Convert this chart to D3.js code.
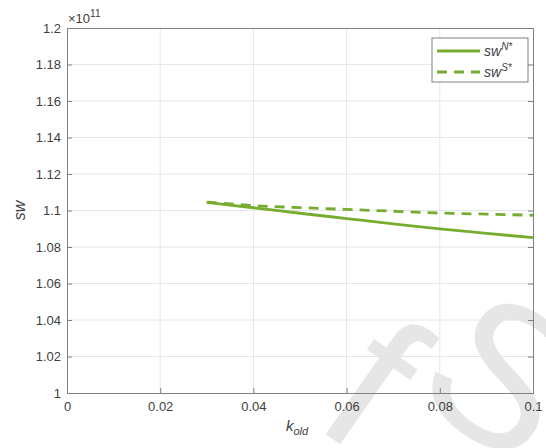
<!DOCTYPE html>
<html>
<head>
<meta charset="utf-8">
<script src="https://cdn.jsdelivr.net/npm/d3@7"></script>
<style>
  body { margin: 0; background: #fff; }
  svg { font-family: "Liberation Sans", Arial, sans-serif; }
</style>
</head>
<body>
<div id="chart"></div>
<script>
// data (values in units of 1e11)
const kOld = [0.03, 0.04, 0.05, 0.06, 0.07, 0.08, 0.09, 0.1];
const swN = [1.1045, 1.1015, 1.0985, 1.0956, 1.0927, 1.0899, 1.0875, 1.0851];
const swS = [1.1046, 1.1027, 1.1016, 1.1006, 1.0996, 1.0986, 1.0980, 1.0974];
const xTicks = [0, 0.02, 0.04, 0.06, 0.08, 0.1];
const yTicks = [1, 1.02, 1.04, 1.06, 1.08, 1.1, 1.12, 1.14, 1.16, 1.18, 1.2];

const W = 546, H = 448;
const m = { left: 67, right: 13, top: 28, bottom: 55 };
const green = "#77ac30";
const axisCol = "#808080";
const textCol = "#404040";

const svg = d3.select("#chart").append("svg")
  .attr("width", W).attr("height", H);

// faint watermark letters in the lower right corner, behind the chart
[{ t: "f", x: 334, y: 440 }, { t: "S", x: 464, y: 432 }].forEach(w => {
  svg.append("text")
    .attr("transform", `translate(${w.x},${w.y}) rotate(35)`)
    .attr("text-anchor", "middle")
    .attr("font-size", 200)
    .attr("fill", "#e6e6e6")
    .text(w.t);
});

const x = d3.scaleLinear().domain([0, 0.1]).range([m.left, W - m.right]);
const y = d3.scaleLinear().domain([1, 1.2]).range([H - m.bottom, m.top]);

const g = svg.append("g");

// grid
g.selectAll(".gx").data(xTicks.slice(1, -1)).join("line")
  .attr("x1", d => x(d)).attr("x2", d => x(d))
  .attr("y1", y(1)).attr("y2", y(1.2))
  .attr("stroke", "#e6e6e6").attr("stroke-width", 1);
g.selectAll(".gy").data(yTicks.slice(1, -1)).join("line")
  .attr("y1", d => y(d)).attr("y2", d => y(d))
  .attr("x1", x(0)).attr("x2", x(0.1))
  .attr("stroke", "#e6e6e6").attr("stroke-width", 1);

// axes
const xAxis = d3.axisBottom(x).tickValues(xTicks).tickSize(-5).tickPadding(9)
  .tickFormat(d => String(+d.toFixed(2)));
const yAxis = d3.axisLeft(y).tickValues(yTicks).tickSize(-5).tickPadding(6)
  .tickFormat(d => String(+d.toFixed(2)));

const gx = svg.append("g").attr("transform", `translate(0,${y(1)})`).call(xAxis);
const gy = svg.append("g").attr("transform", `translate(${x(0)},0)`).call(yAxis);
const gxTop = svg.append("g").attr("transform", `translate(0,${y(1.2)})`)
  .call(d3.axisTop(x).tickValues(xTicks).tickSize(0).tickFormat(""));
const gyRight = svg.append("g").attr("transform", `translate(${x(0.1)},0)`)
  .call(d3.axisRight(y).tickValues(yTicks).tickSize(-5).tickFormat(""));

[gx, gy, gxTop, gyRight].forEach(a => {
  a.select(".domain").attr("stroke", axisCol).attr("stroke-width", 1);
  a.selectAll(".tick line").attr("stroke", axisCol);
  a.selectAll("text").attr("fill", textCol).attr("font-size", 13)
    .attr("font-family", "Liberation Sans, Arial, sans-serif");
});

// lines
const line = (vals) => d3.line().x((d, i) => x(kOld[i])).y(d => y(d)).curve(d3.curveMonotoneX)(vals);
svg.append("path").attr("d", line(swN))
  .attr("fill", "none").attr("stroke", green).attr("stroke-width", 2.8);
svg.append("path").attr("d", line(swS))
  .attr("fill", "none").attr("stroke", green).attr("stroke-width", 2.8)
  .attr("stroke-dasharray", "10,7");

// exponent label
const ex = svg.append("text").attr("x", 68).attr("y", 23)
  .attr("fill", textCol).attr("font-size", 13);
ex.append("tspan").text("\u00d710");
ex.append("tspan").attr("dy", -6).attr("font-size", 10).text("11");

// axis labels
svg.append("text")
  .attr("transform", `translate(25,${(y(1) + y(1.2)) / 2}) rotate(-90)`)
  .attr("text-anchor", "middle").attr("font-size", 16).attr("font-style", "italic")
  .attr("fill", textCol).text("sw");
const xl = svg.append("text").attr("x", 286).attr("y", 431)
  .attr("font-size", 15).attr("font-style", "italic").attr("fill", textCol);
xl.append("tspan").text("k");
xl.append("tspan").attr("dy", 4).attr("font-size", 11).text("old");

// legend
const lg = svg.append("g").attr("transform", "translate(432,38)");
lg.append("rect").attr("width", 96).attr("height", 44)
  .attr("fill", "#fff").attr("stroke", axisCol).attr("stroke-width", 1);
const items = [{ name: "N*", dash: null }, { name: "S*", dash: "10,7" }];
items.forEach((it, i) => {
  const yy = 13 + i * 21;
  lg.append("line").attr("x1", 5).attr("x2", 48).attr("y1", yy).attr("y2", yy)
    .attr("stroke", green).attr("stroke-width", 2.8)
    .attr("stroke-dasharray", it.dash);
  const t = lg.append("text").attr("x", 52).attr("y", yy + 5)
    .attr("font-size", 14).attr("font-style", "italic").attr("fill", textCol);
  t.append("tspan").text("sw");
  t.append("tspan").attr("dy", -6).attr("font-size", 10).text(it.name);
});
</script>
</body>
</html>
